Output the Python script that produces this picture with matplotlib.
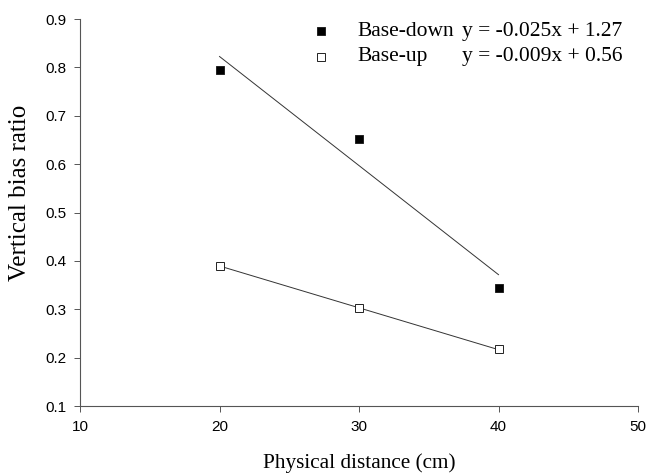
import matplotlib
matplotlib.use("Agg")
import matplotlib.pyplot as plt
import numpy as np

distance = [20, 30, 40]
base_down = [0.795, 0.652, 0.344]
base_up = [0.390, 0.302, 0.217]
labels = ["Base-down", "Base-up"]
equations = ["y = -0.025x + 1.27", "y = -0.009x + 0.56"]
xticks = [10, 20, 30, 40, 50]
yticks = [0.1, 0.2, 0.3, 0.4, 0.5, 0.6, 0.7, 0.8, 0.9]

fig = plt.figure(figsize=(6.48, 4.73), dpi=100)
ax = fig.add_axes([0.1235, 0.1416, 0.8611, 0.8182])

x = np.array(distance, dtype=float)
for ys, face in [(base_down, "black"), (base_up, "white")]:
    k, b = np.polyfit(x, ys, 1)
    xl = np.array([x.min(), x.max()])
    ax.plot(xl, k * xl + b, color="#333333", lw=0.7, zorder=2)
    ax.plot(x, ys, ls="none", marker="s", ms=5.5, mfc=face, mec="#222222", mew=0.7, zorder=3)

ax.set_xlim(10, 50)
ax.set_ylim(0.1, 0.9)
ax.set_xticks(xticks)
ax.set_yticks(yticks)
ax.set_xticklabels([str(t) for t in xticks], fontfamily="Liberation Sans", fontsize=11)
ax.set_yticklabels([f"{t:.1f}" for t in yticks], fontfamily="Liberation Sans", fontsize=11)
ax.tick_params(direction="out", length=4, width=0.7, color="#555555", pad=6)
for s in ["top", "right"]:
    ax.spines[s].set_visible(False)
for s in ["left", "bottom"]:
    ax.spines[s].set_color("#555555")
    ax.spines[s].set_linewidth(0.8)

ax.set_xlabel("Physical distance (cm)", fontfamily="Liberation Serif", fontsize=15.3, labelpad=14)
ax.set_ylabel("Vertical bias ratio", fontfamily="Liberation Serif", fontsize=18)
ax.yaxis.set_label_coords(-0.087, 0.55)

# legend drawn manually
tr = ax.transAxes
faces = ["black", "white"]
for i, (lab, eq, face) in enumerate(zip(labels, equations, faces)):
    yy = 0.969 - i * 0.067
    ax.plot([0.432], [yy], transform=tr, marker="s", ms=5.5, mfc=face, mec="#222222", mew=0.7, ls="none", clip_on=False)
    ax.text(0.497, yy, lab, transform=tr, fontfamily="Liberation Serif", fontsize=15.5, va="center", ha="left")
    ax.text(0.685, yy, eq, transform=tr, fontfamily="Liberation Serif", fontsize=15.5, va="center", ha="left")

fig.savefig("out.png", dpi=100)
